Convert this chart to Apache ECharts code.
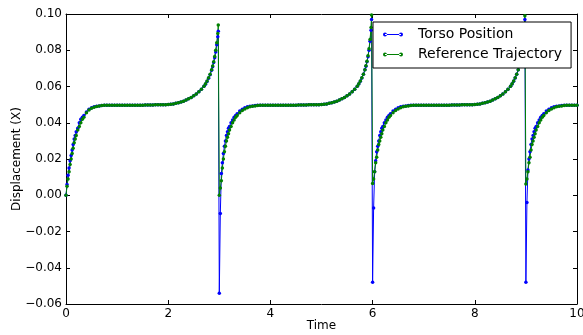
<!DOCTYPE html>
<html>
<head>
<meta charset="utf-8">
<script src="https://cdn.jsdelivr.net/npm/echarts@6/dist/echarts.min.js"></script>
<style>html,body{margin:0;padding:0;background:#fff}#c{width:583px;height:335px}</style>
</head>
<body>
<div id="c"></div>
<script>
// Local sample times within each 3-second cycle
const periodTimes = [0,0.02,0.04,0.06,0.08,0.1,0.12,0.14,0.16,0.18,0.2,0.23,0.26,0.29,0.32,0.35,0.4,0.45,0.5,0.55,0.6,0.65,0.7,0.75,0.8,
  0.85,0.9,0.95,1,1.05,1.1,1.15,1.2,1.25,1.3,1.35,1.4,1.45,1.5,1.55,1.6,1.65,1.7,1.75,1.8,1.85,1.9,1.95,2,
  2.05,2.1,2.15,2.2,2.25,2.3,2.35,2.4,2.45,2.5,2.55,2.6,2.65,2.7,
  2.73,2.76,2.79,2.82,2.85,2.87,2.89,2.91,2.93,2.95,2.97,2.98];
const periodStarts = [0, 3, 6, 9];
const xTicks = [0, 2, 4, 6, 8, 10];
const yTicks = [-0.06, -0.04, -0.02, 0.00, 0.02, 0.04, 0.06, 0.08, 0.10];

// Torso Position (blue), one array per cycle
const torso0 = [0.000,0.006,0.011,0.015,0.019,0.022,0.025,0.028,0.031,0.033,0.035,0.037,0.040,0.042,0.043,0.044,0.046,0.0474,0.0483,0.0488,0.0491,0.0493,0.0495,0.0496,0.0497,
  0.0497,0.0497,0.0497,0.0497,0.0497,0.0497,0.0497,0.0497,0.0497,0.0497,0.0497,0.0497,0.0497,0.0497,0.0498,0.0498,0.0498,0.0498,0.0499,0.0499,0.0499,0.0500,0.0500,0.0501,
  0.0502,0.0504,0.0507,0.0510,0.0514,0.0519,0.0525,0.0532,0.0540,0.0549,0.0559,0.0571,0.0585,0.0601,
  0.0613,0.0628,0.0645,0.0665,0.0690,0.0709,0.0732,0.0758,0.0790,0.0830,0.0875,0.0905];
const torso1 = [-0.054,-0.010,0.012,0.018,0.023,0.027,0.030,0.033,0.035,0.037,0.038,0.040,0.0415,0.043,0.044,0.045,0.0465,0.0475,0.0483,0.0488,0.0491,0.0493,0.0495,0.0496,0.0497,
  0.0497,0.0497,0.0497,0.0497,0.0497,0.0497,0.0497,0.0497,0.0497,0.0497,0.0497,0.0497,0.0497,0.0497,0.0498,0.0498,0.0498,0.0498,0.0499,0.0499,0.0499,0.0500,0.0500,0.0501,
  0.0502,0.0504,0.0507,0.0510,0.0514,0.0519,0.0525,0.0532,0.0540,0.0549,0.0559,0.0571,0.0585,0.0601,
  0.0614,0.0629,0.0647,0.0667,0.0692,0.0712,0.0736,0.0764,0.0800,0.0850,0.0910,0.0970];
const torso2 = [-0.048,-0.007,0.013,0.019,0.024,0.027,0.030,0.033,0.035,0.037,0.038,0.040,0.0415,0.043,0.044,0.045,0.0465,0.0475,0.0483,0.0488,0.0491,0.0493,0.0495,0.0496,0.0497,
  0.0497,0.0497,0.0497,0.0497,0.0497,0.0497,0.0497,0.0497,0.0497,0.0497,0.0497,0.0497,0.0497,0.0497,0.0498,0.0498,0.0498,0.0498,0.0499,0.0499,0.0499,0.0500,0.0500,0.0501,
  0.0502,0.0504,0.0507,0.0510,0.0514,0.0519,0.0525,0.0532,0.0540,0.0549,0.0559,0.0571,0.0585,0.0601,
  0.0614,0.0629,0.0647,0.0667,0.0692,0.0712,0.0736,0.0764,0.0800,0.0850,0.0910,0.0970];
const torso3 = [-0.048,-0.004,0.014,0.020,0.024,0.028,0.031,0.033,0.035,0.037,0.038,0.040,0.0415,0.043,0.044,0.045,0.0465,0.0475,0.0483,0.0488,0.0491,0.0493,0.0495,0.0496,0.0497,
  0.0497,0.0497,0.0497,0.0497];

// Reference Trajectory (green), one array per cycle
const ref0 = [0.000,0.005,0.009,0.013,0.017,0.020,0.023,0.026,0.029,0.031,0.033,0.036,0.038,0.040,0.042,0.043,0.0455,0.047,0.048,0.0486,0.049,0.0493,0.0495,0.0496,0.0497,
  0.0497,0.0497,0.0497,0.0497,0.0497,0.0497,0.0497,0.0497,0.0497,0.0497,0.0497,0.0497,0.0497,0.0497,0.0498,0.0498,0.0498,0.0498,0.0499,0.0499,0.0499,0.0500,0.0500,0.0501,
  0.0502,0.0504,0.0507,0.0510,0.0514,0.0519,0.0525,0.0532,0.0540,0.0549,0.0559,0.0571,0.0585,0.0602,
  0.0615,0.0630,0.0648,0.0668,0.0693,0.0713,0.0737,0.0766,0.0800,0.0842,0.0893,0.0940];
const ref1 = [0.000,0.004,0.008,0.015,0.020,0.024,0.027,0.030,0.032,0.034,0.036,0.038,0.040,0.0415,0.043,0.044,0.0455,0.0467,0.0476,0.0483,0.0488,0.0491,0.0493,0.0495,0.0496,
  0.0497,0.0497,0.0497,0.0497,0.0497,0.0497,0.0497,0.0497,0.0497,0.0497,0.0497,0.0497,0.0497,0.0497,0.0498,0.0498,0.0498,0.0498,0.0499,0.0499,0.0499,0.0500,0.0500,0.0501,
  0.0502,0.0504,0.0507,0.0510,0.0514,0.0519,0.0525,0.0532,0.0540,0.0549,0.0559,0.0571,0.0585,0.0602,
  0.0615,0.0630,0.0648,0.0668,0.0693,0.0714,0.0739,0.0770,0.0808,0.0860,0.0925,0.0995];
const ref2 = [0.0065,0.009,0.013,0.018,0.021,0.025,0.028,0.030,0.032,0.034,0.036,0.038,0.040,0.0415,0.043,0.044,0.0455,0.0467,0.0476,0.0483,0.0488,0.0491,0.0493,0.0495,0.0496,
  0.0497,0.0497,0.0497,0.0497,0.0497,0.0497,0.0497,0.0497,0.0497,0.0497,0.0497,0.0497,0.0497,0.0497,0.0498,0.0498,0.0498,0.0498,0.0499,0.0499,0.0499,0.0500,0.0500,0.0501,
  0.0502,0.0504,0.0507,0.0510,0.0514,0.0519,0.0525,0.0532,0.0540,0.0549,0.0559,0.0571,0.0585,0.0602,
  0.0615,0.0630,0.0648,0.0668,0.0693,0.0714,0.0739,0.0770,0.0808,0.0860,0.0925,0.0990];
const ref3 = [0.0062,0.009,0.013,0.018,0.021,0.025,0.028,0.030,0.032,0.034,0.036,0.038,0.040,0.0415,0.043,0.044,0.0455,0.0467,0.0476,0.0483,0.0488,0.0491,0.0493,0.0495,0.0496,
  0.0497,0.0497,0.0497,0.0497];

const torsoCycles = [torso0, torso1, torso2, torso3];
const refCycles = [ref0, ref1, ref2, ref3];

function build(cycles) {
  const out = [];
  cycles.forEach((vals, k) => {
    vals.forEach((v, i) => out.push([periodStarts[k] + periodTimes[i], v]));
  });
  return out;
}

const FONT = 'DejaVu Sans';
const legendIcon = 'path://M0,2.5a2.5,2.5 0 1,0 5,0a2.5,2.5 0 1,0 -5,0ZM20,2.5a2.5,2.5 0 1,0 5,0a2.5,2.5 0 1,0 -5,0ZM2.5,2L22.5,2L22.5,3L2.5,3Z';

function fmtY(v) {
  if (Math.abs(v) < 1e-9) return '0.00';
  return (v < 0 ? '\u2212' : '') + Math.abs(v).toFixed(2);
}

const chart = echarts.init(document.getElementById('c'), null, {renderer: 'canvas'});
const tickStyle = {show: true, inside: true, length: 4, lineStyle: {color: '#000', width: 1}};
const lineStyle = {show: true, onZero: false, lineStyle: {color: '#000', width: 1}};
chart.setOption({
  animation: false,
  backgroundColor: '#fff',
  grid: {left: 66, right: 6, top: 14, bottom: 31, containLabel: false, outerBoundsMode: 'none'},
  xAxis: [
    {type: 'value', min: xTicks[0], max: xTicks[xTicks.length-1], interval: 2,
     axisLine: lineStyle, axisTick: tickStyle, splitLine: {show: false},
     axisLabel: {color: '#000', fontFamily: FONT, fontSize: 12, margin: 4},
     name: 'Time', nameLocation: 'middle', nameGap: 16, nameMoveOverlap: false,
     nameTextStyle: {color: '#000', fontFamily: FONT, fontSize: 12}},
    {type: 'value', position: 'top', min: xTicks[0], max: xTicks[xTicks.length-1], interval: 2,
     axisLine: lineStyle, axisTick: tickStyle, splitLine: {show: false}, axisLabel: {show: false}}
  ],
  yAxis: [
    {type: 'value', min: yTicks[0], max: yTicks[yTicks.length-1], interval: 0.02,
     axisLine: lineStyle, axisTick: tickStyle, splitLine: {show: false},
     axisLabel: {color: '#000', fontFamily: FONT, fontSize: 12, margin: 4, formatter: fmtY},
     name: 'Displacement (X)', nameLocation: 'middle', nameGap: 43, nameMoveOverlap: false,
     nameTextStyle: {color: '#000', fontFamily: FONT, fontSize: 12}},
    {type: 'value', position: 'right', min: yTicks[0], max: yTicks[yTicks.length-1], interval: 0.02,
     axisLine: lineStyle, axisTick: tickStyle, splitLine: {show: false}, axisLabel: {show: false}}
  ],
  legend: {
    orient: 'vertical', left: 373, top: 22,
    backgroundColor: '#fff', borderColor: '#000', borderWidth: 1, borderRadius: 0,
    padding: [5, 9, 6, 10], itemGap: 5, itemWidth: 20, itemHeight: 5,
    icon: legendIcon,
    textStyle: {color: '#000', fontFamily: FONT, fontSize: 14, lineHeight: 15, padding: [0, 0, 0, 10]},
    data: ['Torso Position', 'Reference Trajectory']
  },
  series: [
    {name: 'Torso Position', type: 'line', data: build(torsoCycles),
     xAxisIndex: 0, yAxisIndex: 0, symbol: 'circle', symbolSize: 3.5, showSymbol: true, showAllSymbol: true,
     color: '#0000ff', lineStyle: {width: 1, color: '#0000ff'}, itemStyle: {color: '#0000ff'}},
    {name: 'Reference Trajectory', type: 'line', data: build(refCycles),
     xAxisIndex: 0, yAxisIndex: 0, symbol: 'circle', symbolSize: 3.5, showSymbol: true, showAllSymbol: true,
     color: '#008000', lineStyle: {width: 1, color: '#008000'}, itemStyle: {color: '#008000'}}
  ]
});
</script>
</body>
</html>
